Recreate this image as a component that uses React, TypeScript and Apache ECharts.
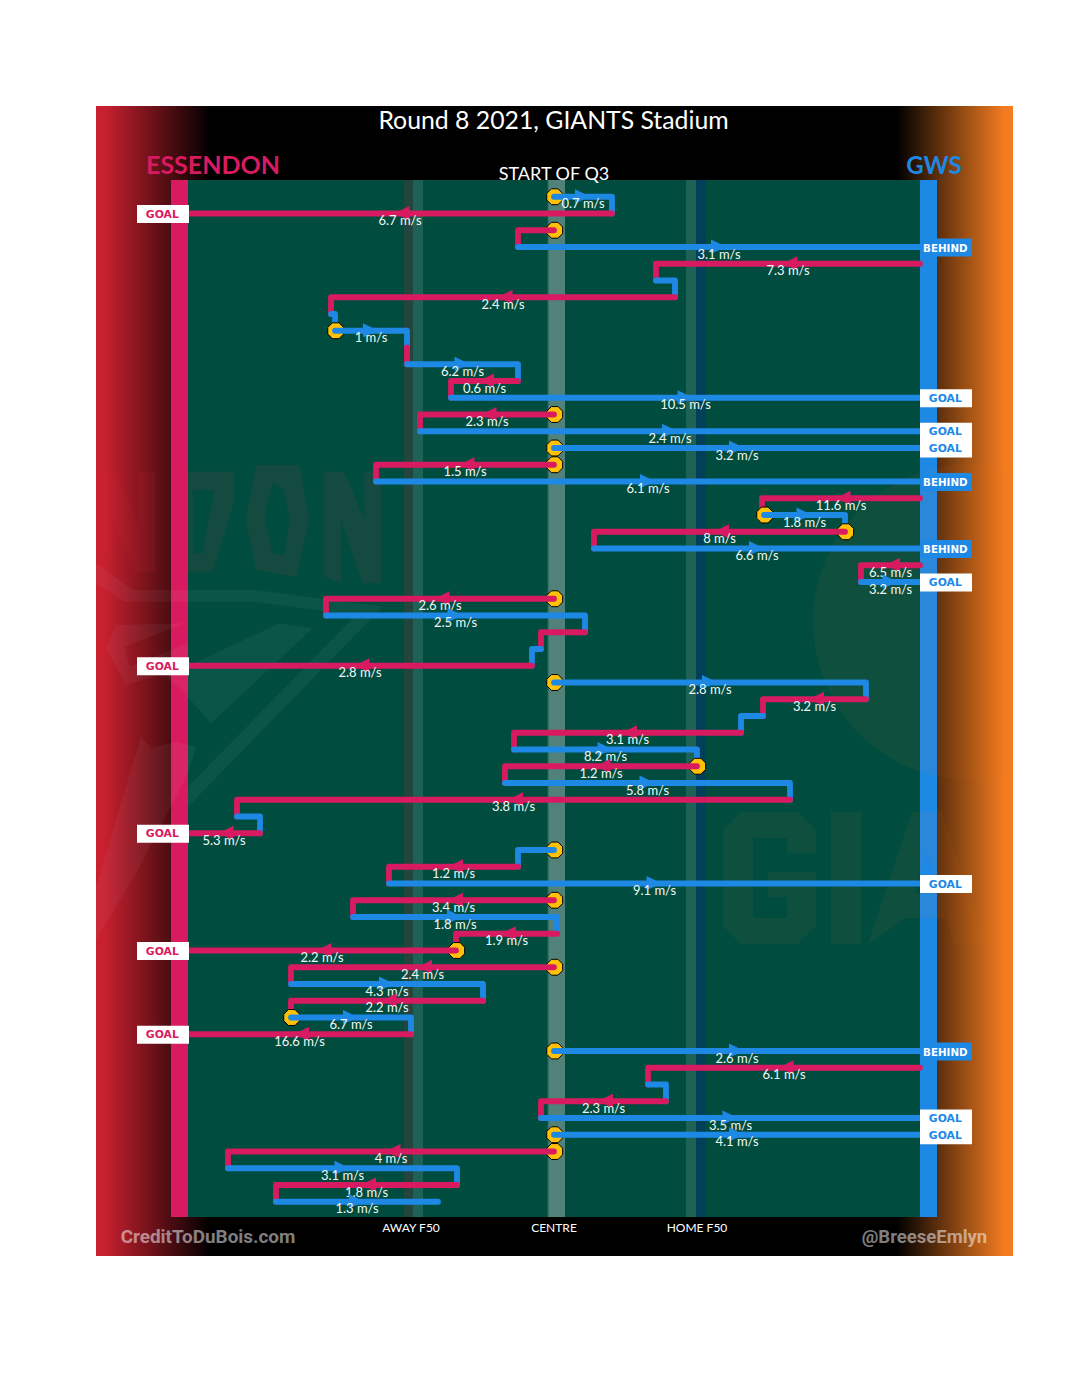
import React, { useEffect, useRef } from "react";
import * as echarts from "echarts";

// --- data: one entry per disposal, field position measured from the centre of the ground ---
const teams = ("BPPBPBPBBP" + "BPBPBBPBPB" + "PBPBPBPBPB" + "PBPBPBPBPB" + "PBPBPPPBPB" + "PBPBPBBPBP" + "B").split("");
const startX = [0, 58, 0, -36, 366, 102, 121, -223, -219, -147, -147, -36, -103, 0, -134, 0, 0, -178, 366, 210, 291, 40, 366, 307, 0, -228, 31, -13, -22, 0, 312, 209, 187, -40, 143, -49, 236, -317, -294, 0, -36, -165, 0, -201, 3, -98, 0, -263, -71, -263, -143, 0, 366, 94, 112, -13, 0, 0, -326, -97, -278];
const endX = [58, -366, -36, 366, 102, 121, -223, -219, -147, -147, -36, -103, 366, -134, 366, 366, -178, 366, 208, 291, 40, 366, 307, 366, -228, 31, -13, -22, -366, 312, 209, 187, -40, 143, -49, 236, -317, -294, -366, -36, -165, 366, -201, 3, -98, -366, -263, -71, -263, -143, -366, 366, 94, 112, -13, 366, 366, -326, -97, -278, -116];
const speeds = ["0.7", "6.7", "", "3.1", "7.3", "", "2.4", "", "1", "", "6.2", "0.6", "10.5", "2.3", "2.4", "3.2", "1.5", "6.1", "11.6", "1.8", "8", "6.6", "6.5", "3.2", "2.6", "2.5", "", "", "2.8", "2.8", "3.2", "", "3.1", "8.2", "1.2", "5.8", "3.8", "", "5.3", "", "1.2", "9.1", "3.4", "1.8", "1.9", "2.2", "2.4", "4.3", "2.2", "6.7", "16.6", "2.6", "6.1", "", "2.3", "3.5", "4.1", "4", "3.1", "1.8", "1.3"];
const goalRows = [1, 12, 14, 15, 23, 28, 38, 41, 45, 50, 55, 56];
const behindRows = [3, 17, 21, 51];
const stoppageRows = [0, 2, 8, 13, 15, 16, 19, 20, 24, 29, 34, 39, 42, 45, 46, 49, 51, 56, 57];
const fieldTicks = [-143, 0, 143];
const fieldTickNames = ["AWAY F50", "CENTRE", "HOME F50"];
const bandFrom = [-150, -141, -7, 132, 142];
const bandTo = [-141, -131, 11, 142, 152];
const bandKinds = ["dark", "light", "centre", "light", "blue"];

const PINK = "#D81B60";
const BLUE = "#1E88E5";
const GREEN = "#004D40";
const YELLOW = "#FFC107";
const LABEL = "#F0F8F4";
const FONT = "Lato, sans-serif";

const px = (pts: number[][], ox: number, oy: number) => pts.map(([x, y]) => [ox + x / 3, oy + y / 3]);

// faint club logos behind the chart
const essendonShapes = [
  px([[0, 95], [60, 95], [125, 250], [125, 95], [178, 95], [178, 395], [115, 395], [50, 240], [50, 350], [0, 320]], 96, 440),
  px([[275, 95], [415, 95], [415, 180], [350, 395], [276, 395], [276, 340], [320, 340], [355, 150], [290, 150], [290, 340], [276, 340]], 96, 440),
  px([[480, 75], [610, 75], [640, 240], [600, 410], [480, 390], [450, 240], [480, 75], [505, 230], [530, 340], [565, 345], [580, 240], [565, 150], [530, 130], [505, 230]], 96, 440),
  px([[685, 95], [745, 95], [805, 240], [805, 95], [855, 95], [855, 430], [800, 430], [735, 240], [735, 430], [685, 410]], 96, 440),
];
const essendonBands = [
  px([[0, 370], [110, 450], [480, 450], [860, 500], [276, 1100], [276, 1040], [780, 525], [470, 485], [85, 485], [0, 430]], 96, 440),
  px([[210, 710], [550, 550], [650, 565], [345, 850], [275, 770], [245, 740]], 96, 440),
  px([[30, 625], [60, 555], [270, 550], [85, 620], [100, 680], [275, 610], [275, 680], [90, 735]], 96, 440),
  px([[0, 1500], [0, 1340], [135, 890], [165, 925], [240, 905], [300, 920], [276, 1000], [120, 1300]], 96, 440),
];
const giantsShapes = [
  [[816, 853], [816, 830], [798, 812], [741, 812], [723, 830], [723, 926], [741, 944], [798, 944], [816, 926], [816, 872], [768, 872], [768, 897], [787, 897], [787, 918], [753, 918], [753, 838], [787, 838], [787, 853]],
  [[831, 812], [861, 812], [861, 944], [831, 944]],
  [[868, 944], [912, 812], [942, 812], [984, 944], [954, 944], [946, 918], [906, 918], [898, 944], [906, 918], [915, 893], [938, 893], [927, 850], [915, 893], [906, 918]],
];

const octagon = (cx: number, cy: number, r: number) =>
  Array.from({ length: 8 }, (_, k) => {
    const a = Math.PI / 8 + (k * Math.PI) / 4;
    return [cx + r * Math.cos(a), cy + r * Math.sin(a)];
  });

function renderBand(params: any, api: any) {
  const x0 = api.coord([api.value(0), -1]);
  const x1 = api.coord([api.value(1), 61]);
  const kind = bandKinds[params.dataIndex];
  const fill =
    kind === "dark" ? "#22463D" :
    kind === "light" ? "#1E6155" :
    kind === "blue" ? "#023F58" :
    new echarts.graphic.LinearGradient(0, 0, 1, 0, [
      { offset: 0, color: "#004D40" },
      { offset: 0.12, color: "#50827A" },
      { offset: 0.88, color: "#50827A" },
      { offset: 1, color: "#50827A" },
    ]);
  return {
    type: "rect",
    shape: { x: x0[0], y: 180, width: x1[0] - x0[0], height: 1037 },
    style: { fill },
  };
}

function renderWatermark() {
  const clip = { type: "rect", shape: { x: 96, y: 180, width: 917, height: 1037 } };
  const children: any[] = [
    { type: "circle", shape: { cx: 971, cy: 622, r: 158 }, style: { fill: "rgba(244,124,32,0.06)" } },
  ];
  giantsShapes.forEach((p) => children.push({ type: "polygon", shape: { points: p }, style: { fill: "rgba(244,124,32,0.06)" } }));
  essendonShapes.forEach((p) => children.push({ type: "polygon", shape: { points: p }, style: { fill: "rgba(225,40,65,0.09)" } }));
  essendonBands.forEach((p) => children.push({ type: "polygon", shape: { points: p }, style: { fill: "rgba(255,255,255,0.045)" } }));
  return { type: "group", clipPath: clip, children };
}

function renderPlay(params: any, api: any) {
  const i = params.dataIndex;
  const col = teams[i] === "P" ? PINK : BLUE;
  const a = api.coord([startX[i], i]);
  const b = api.coord([endX[i], i]);
  const finished = goalRows.includes(i) || behindRows.includes(i);
  const pts = [a, b];
  if (!finished && i < teams.length - 1) pts.push(api.coord([endX[i], i + 1]));
  const children: any[] = [];
  if (stoppageRows.includes(i)) {
    children.push({
      type: "polygon",
      shape: { points: octagon(a[0] + 0.7, a[1], 8.6) },
      style: { fill: YELLOW, stroke: "#000", lineWidth: 1 },
    });
  }
  children.push({
    type: "polyline",
    shape: { points: pts },
    style: { fill: null, stroke: col, lineWidth: 5.8, lineCap: "round", lineJoin: "round" },
  });
  const mid = (a[0] + b[0]) / 2;
  if (speeds[i]) {
    const dir = b[0] > a[0] ? 1 : -1;
    const tip = dir > 0 ? mid + 7.5 : mid - 5.5;
    const base = dir > 0 ? mid - 8 : mid + 9.5;
    children.push({
      type: "polygon",
      shape: { points: [[base, a[1] - 7.5], [tip, a[1]], [base, a[1] + 6.5]] },
      style: { fill: col },
    });
    children.push({
      type: "text",
      style: {
        text: speeds[i] + " m/s",
        x: mid,
        y: a[1] + 6.7,
        fill: LABEL,
        font: `13px ${FONT}`,
        textAlign: "center",
        textVerticalAlign: "middle",
      },
    });
  }
  if (finished) {
    const isGoal = goalRows.includes(i);
    const left = b[0] < 500;
    const boxX = left ? 137 : 920;
    const boxFill = isGoal ? "#FFFFFF" : col;
    const txtFill = isGoal ? col : "#FFFFFF";
    children.push({
      type: "rect",
      shape: { x: boxX, y: a[1] - 8.6, width: 52, height: 18 },
      style: { fill: boxFill },
    });
    children.push({
      type: "text",
      style: {
        text: isGoal ? "GOAL" : "BEHIND",
        x: boxX + 25.3,
        y: a[1] + 0.7,
        fill: txtFill,
        font: `bold ${isGoal ? 10.8 : 10.3}px "DejaVu Sans", sans-serif`,
        textAlign: "center",
        textVerticalAlign: "middle",
      },
    });
  }
  return { type: "group", children };
}

const rect = (x: number, y: number, w: number, h: number, fill: any) => ({
  type: "rect",
  shape: { x, y, width: w, height: h },
  style: { fill },
});
const label = (text: string, x: number, y: number, fill: string, font: string, align = "center") => ({
  type: "text",
  style: { text, x, y, fill, font, textAlign: align, textVerticalAlign: "middle" },
});

export default function App() {
  const ref = useRef<HTMLDivElement>(null);
  useEffect(() => {
    const chart = echarts.init(ref.current!, undefined, { renderer: "svg" });
    chart.setOption({
      animation: false,
      backgroundColor: "#FFFFFF",
      graphic: {
        elements: [
          rect(96, 106, 917, 1150, "#000000"),
          rect(96, 106, 115, 1150, {
            type: "linear", x: 0, y: 0, x2: 1, y2: 0,
            colorStops: [
              { offset: 0, color: "#C8202F" },
              { offset: 0.07, color: "#C8202F" },
              { offset: 1, color: "#000000" },
            ],
          }),
          rect(897, 106, 116, 1150, {
            type: "linear", x: 0, y: 0, x2: 1, y2: 0,
            colorStops: [
              { offset: 0, color: "#000000" },
              { offset: 0.93, color: "#F47C20" },
              { offset: 1, color: "#F47C20" },
            ],
          }),
          rect(188, 180, 732, 1037, GREEN),
          rect(171, 180, 17, 1037, PINK),
          rect(920, 180, 17, 1037, BLUE),
          label("Round 8 2021, GIANTS Stadium", 553.5, 119.3, "#FFFFFF", `24.8px ${FONT}`),
          label("START OF Q3", 554, 172.5, "#FFFFFF", `18px ${FONT}`),
          label("ESSENDON", 213, 163.8, PINK, `bold 25px ${FONT}`),
          label("GWS", 934, 164, BLUE, `bold 24px ${FONT}`),
          label("CreditToDuBois.com", 208, 1236.5, "rgba(255,255,255,0.5)", `bold 18.9px Roboto, sans-serif`),
          label("@BreeseEmlyn", 924.5, 1237, "rgba(255,255,255,0.5)", `bold 18.5px Roboto, sans-serif`),
        ],
      },
      grid: { left: 188, top: 180, width: 732, height: 1038.5 },
      xAxis: {
        type: "value",
        min: -366,
        max: 366,
        z: 5,
        axisLine: { show: false },
        splitLine: { show: false },
        axisTick: { show: false },
        axisLabel: {
          customValues: fieldTicks,
          color: "#FFFFFF",
          fontFamily: "Lato, sans-serif",
          fontSize: 12,
          margin: 3,
          formatter: (v: number) => fieldTickNames[fieldTicks.indexOf(v)] ?? "",
        },
      },
      yAxis: { type: "value", min: -1, max: 61, inverse: true, show: false, splitLine: { show: false } },
      series: [
        {
          type: "custom",
          name: "bands",
          z: 3,
          clip: false,
          silent: true,
          renderItem: renderBand,
          encode: { x: [0, 1] },
          data: bandFrom.map((f, i) => [f, bandTo[i]]),
        },
        {
          type: "custom",
          name: "logos",
          z: 4,
          clip: false,
          silent: true,
          renderItem: renderWatermark,
          data: [[0, 0]],
        },
        {
          type: "custom",
          name: "play",
          z: 10,
          clip: false,
          silent: true,
          renderItem: renderPlay,
          encode: { x: [0, 2], y: 1 },
          data: teams.map((_, i) => [startX[i], i, endX[i]]),
        },
      ],
    });
    return () => chart.dispose();
  }, []);
  return <div ref={ref} style={{ position: "absolute", left: 0, top: 0, width: 1080, height: 1375 }} />;
}
